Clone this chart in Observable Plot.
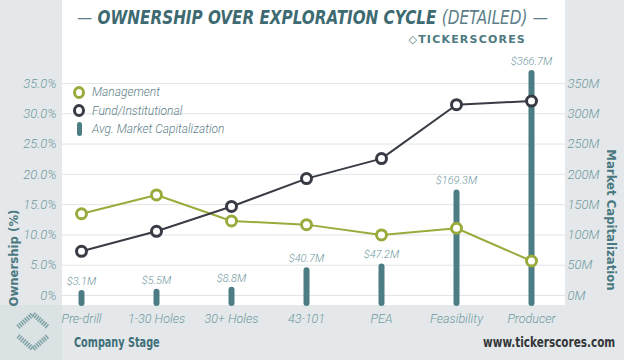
<!DOCTYPE html>
<html>
<head>
<meta charset="utf-8">
<script src="https://cdn.jsdelivr.net/npm/d3@7"></script>
<script src="https://cdn.jsdelivr.net/npm/@observablehq/plot@0.6"></script>
<style>
  html, body { margin: 0; padding: 0; background: #e4e8ea; }
  #wrap { position: relative; width: 624px; height: 360px; overflow: hidden; background: #e4e8ea; font-family: Roboto, "DejaVu Sans", sans-serif; }
  #panel { position: absolute; left: 62px; top: 0; width: 503px; height: 305px; background: #ffffff; }
  #logoBox { position: absolute; left: 0; top: 305px; width: 62px; height: 55px; background: #dae2e3; }
  #title { position: absolute; left: 0; top: 6px; width: 624px; text-align: center; white-space: nowrap; }
  #title .inner { display: inline-block; transform: scaleX(0.89); transform-origin: center; font-family: "DejaVu Sans Condensed", "DejaVu Sans", sans-serif; font-style: italic; font-weight: bold; font-size: 19px; color: #3e6a72; }
  #title .light { font-weight: normal; color: #5d8088; }
  #title .dash { font-weight: normal; color: #5d8088; }
  #brand { position: absolute; left: 400px; top: 33px; width: 126px; text-align: right; font-family: "DejaVu Sans", sans-serif; font-weight: bold; font-size: 11px; letter-spacing: 1.2px; color: #4d7980; white-space: nowrap; }
  #chart { position: absolute; left: 0; top: 0; }
  .legend { position: absolute; left: 73px; top: 83px; font-family: Roboto, sans-serif; font-style: italic; font-weight: 300; font-size: 12px; color: #5e8087; }
  .legend .row { height: 18.5px; display: flex; align-items: center; }
  .legend .sw { width: 12px; display: inline-flex; justify-content: center; margin-right: 7px; }
  .ring { width: 7px; height: 7px; border-radius: 50%; border: 3px solid; background: #fff; }
  .pill { width: 5px; height: 14px; border-radius: 3px; background: #4c7c84; }
  #ylab { position: absolute; left: 13px; top: 258px; transform: translate(-50%, -50%) rotate(-90deg); font-family: "DejaVu Sans Condensed", sans-serif; font-weight: bold; font-size: 13px; color: #4a7880; white-space: nowrap; }
  #y2lab { position: absolute; left: 611px; top: 220px; transform: translate(-50%, -50%) rotate(90deg); font-family: "DejaVu Sans Condensed", sans-serif; font-weight: bold; font-size: 13px; color: #4a7880; white-space: nowrap; }
  #xlab { position: absolute; left: 74px; top: 334px; transform: scaleX(0.77); transform-origin: left center; font-family: "DejaVu Sans Condensed", sans-serif; font-weight: bold; font-size: 14px; color: #3e6f78; white-space: nowrap; }
  #url { position: absolute; right: 9px; top: 334px; transform: scaleX(0.83); transform-origin: right center; font-family: "DejaVu Sans Condensed", sans-serif; font-weight: bold; font-size: 14px; color: #343638; white-space: nowrap; }
</style>
</head>
<body>
<div id="wrap">
  <div id="panel"></div>
  <div id="logoBox">
    <svg width="62" height="55" viewBox="0 0 62 55">
      <polyline points="18,22 33,9 48,22" fill="none" stroke="#7fa2a7" stroke-width="5" stroke-dasharray="1.5,1"/>
      <polyline points="18,31 33,44 48,31" fill="none" stroke="#7fa2a7" stroke-width="5" stroke-dasharray="1.5,1"/>
    </svg>
  </div>
  <div id="title"><span class="inner"><span class="dash">—</span> OWNERSHIP OVER EXPLORATION CYCLE <span class="light">(DETAILED)</span> <span class="dash">—</span></span></div>
  <div id="brand">◇TICKERSCORES</div>
  <div id="chart"></div>
  <div class="legend">
    <div class="row"><span class="sw"><span class="ring" style="border-color:#9aab3c"></span></span>Management</div>
    <div class="row"><span class="sw"><span class="ring" style="border-color:#383b44"></span></span>Fund/Institutional</div>
    <div class="row"><span class="sw"><span class="pill"></span></span>Avg. Market Capitalization</div>
  </div>
  <div id="ylab">Ownership (%)</div>
  <div id="y2lab">Market Capitalization</div>
  <div id="xlab">Company Stage</div>
  <div id="url">www.tickerscores.com</div>
</div>
<script>
const stages = ["Pre-drill", "1-30 Holes", "30+ Holes", "43-101", "PEA", "Feasibility", "Producer"];
const management = [13.5, 16.6, 12.3, 11.7, 10.0, 11.1, 5.7];
const fund = [7.3, 10.6, 14.7, 19.3, 22.6, 31.5, 32.1];
const marketCap = [3.1, 5.5, 8.8, 40.7, 47.2, 169.3, 366.7];
const pctTicks = [0, 5, 10, 15, 20, 25, 30, 35];
const capTicks = [0, 50, 100, 150, 200, 250, 300, 350];

const data = stages.map((s, i) => ({stage: s, mgmt: management[i], fund: fund[i], cap: marketCap[i]}));

const GREEN = "#9aab3c";
const DARK = "#383b44";
const TEAL = "#4c7c84";
const AXIS = "#6f99a0";

const chart = Plot.plot({
  width: 624,
  height: 360,
  marginLeft: 78,
  marginRight: 91,
  marginTop: 83,
  marginBottom: 65,
  style: {background: "transparent", fontFamily: "Roboto, 'DejaVu Sans', sans-serif", overflow: "visible"},
  x: {type: "point", domain: stages, padding: 0},
  y: {domain: [0, 35]},
  marks: [
    Plot.ruleY(pctTicks, {y: d => d, stroke: "#dfe5e8", strokeWidth: 1, insetLeft: -16, insetRight: -32}),
    Plot.axisY(pctTicks, {anchor: "left", tickSize: 0, tickPadding: 22, label: null,
      tickFormat: d => d === 0 ? "0%" : d.toFixed(1) + "%",
      fill: AXIS, fontSize: 13, fontStyle: "italic", fontWeight: 300}),
    Plot.axisY(capTicks.map(d => d / 10), {anchor: "right", tickSize: 0, tickPadding: 34, label: null,
      tickFormat: d => Math.round(d * 10) + "M",
      fill: AXIS, fontSize: 13, fontStyle: "italic", fontWeight: 300}),
    Plot.axisX({anchor: "bottom", tickSize: 0, tickPadding: 19, label: null,
      fill: AXIS, fontSize: 12.5, fontStyle: "italic", fontWeight: 300}),
    Plot.ruleX(data, {x: "stage", y1: d => d.cap / 10, y2: 0, stroke: TEAL, strokeWidth: 6,
      strokeLinecap: "round", insetBottom: -8}),
    Plot.text(data, {x: "stage", y: d => d.cap / 10, text: d => "$" + d.cap.toFixed(1) + "M",
      dy: -12, fill: AXIS, fontSize: 11, fontStyle: "italic", fontWeight: 300}),
    Plot.line(data, {x: "stage", y: "mgmt", stroke: GREEN, strokeWidth: 2}),
    Plot.line(data, {x: "stage", y: "fund", stroke: DARK, strokeWidth: 2}),
    Plot.dot(data, {x: "stage", y: "mgmt", r: 5, stroke: GREEN, strokeWidth: 3, fill: "white"}),
    Plot.dot(data, {x: "stage", y: "fund", r: 5, stroke: DARK, strokeWidth: 3, fill: "white"})
  ]
});
document.getElementById("chart").appendChild(chart);
</script>
</body>
</html>
